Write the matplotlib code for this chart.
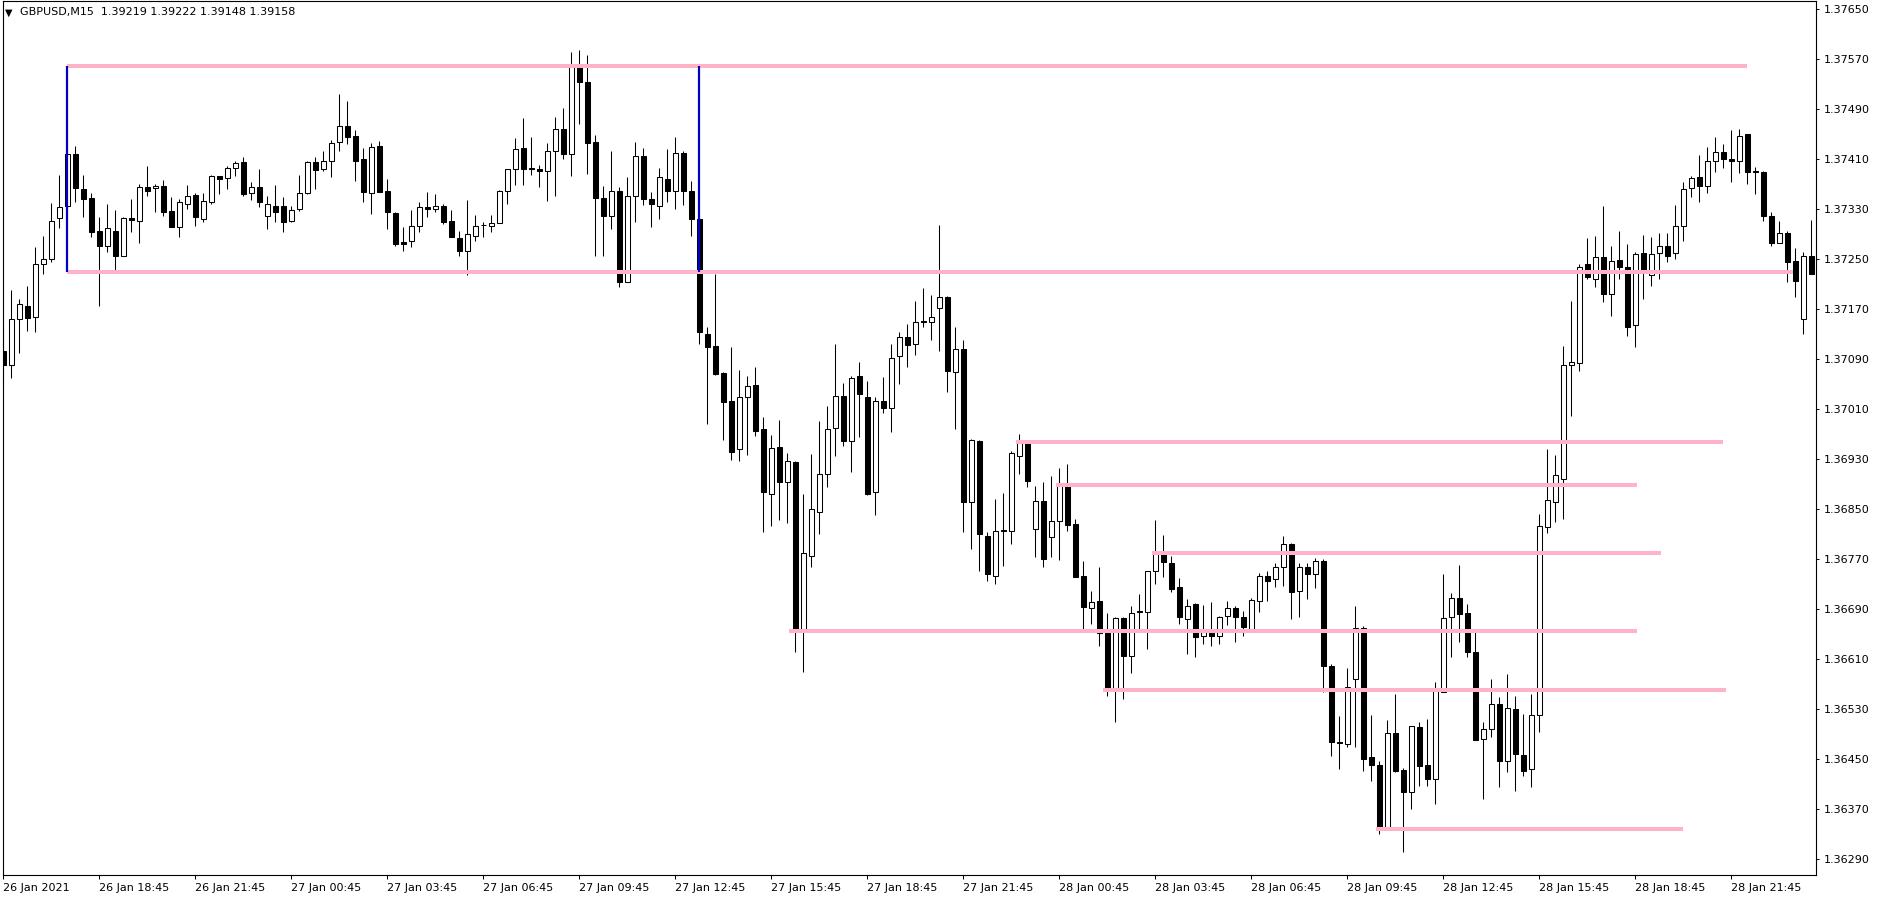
import matplotlib
matplotlib.use("Agg")
import matplotlib.pyplot as plt
import numpy as np

# GBPUSD M15 bars (oldest first)
opens = [
    1.37103, 1.37081, 1.37154, 1.37175, 1.37157, 1.37242, 1.37250, 1.37316, 1.37335, 1.37418,
    1.37362, 1.37348, 1.37295, 1.37272, 1.37296, 1.37255, 1.37316, 1.37312, 1.37365, 1.37364,
    1.37368, 1.37327, 1.37302, 1.37338, 1.37353, 1.37315, 1.37341, 1.37383, 1.37380, 1.37396,
    1.37405, 1.37356, 1.37365, 1.37319, 1.37335, 1.37335, 1.37311, 1.37330, 1.37356, 1.37405,
    1.37394, 1.37408, 1.37437, 1.37463, 1.37447, 1.37410, 1.37356, 1.37431, 1.37359, 1.37324,
    1.37277, 1.37279, 1.37304, 1.37333, 1.37331, 1.37336, 1.37311, 1.37284, 1.37264, 1.37288,
    1.37305, 1.37304, 1.37308, 1.37359, 1.37394, 1.37428, 1.37396, 1.37394, 1.37392, 1.37424,
    1.37458, 1.37418, 1.37557, 1.37533, 1.37437, 1.37348, 1.37320, 1.37359, 1.37214, 1.37352,
    1.37416, 1.37346, 1.37336, 1.37378, 1.37360, 1.37420, 1.37360, 1.37314, 1.37130, 1.37111,
    1.37068, 1.37023, 1.36946, 1.37029, 1.37049, 1.36978, 1.36875, 1.36949, 1.36893, 1.36926,
    1.36658, 1.36776, 1.36846, 1.36906, 1.36980, 1.37031, 1.36960, 1.37064, 1.37029, 1.36877,
    1.37024, 1.37012, 1.37095, 1.37125, 1.37114, 1.37151, 1.37149, 1.37172, 1.37189, 1.37069,
    1.37106, 1.36862, 1.36959, 1.36808, 1.36744, 1.36817, 1.36816, 1.36936, 1.36956, 1.36818,
    1.36863, 1.36805, 1.36831, 1.36889, 1.36826, 1.36743, 1.36692, 1.36703, 1.36652, 1.36564,
    1.36676, 1.36615, 1.36685, 1.36686, 1.36751, 1.36780, 1.36764, 1.36725, 1.36674, 1.36698,
    1.36647, 1.36653, 1.36647, 1.36680, 1.36692, 1.36677, 1.36659, 1.36704, 1.36744, 1.36738,
    1.36757, 1.36794, 1.36719, 1.36757, 1.36746, 1.36768, 1.36600, 1.36477, 1.36474, 1.36578,
    1.36660, 1.36454, 1.36441, 1.36341, 1.36492, 1.36433, 1.36398, 1.36501, 1.36441, 1.36419,
    1.36557, 1.36678, 1.36708, 1.36684, 1.36621, 1.36482, 1.36498, 1.36538, 1.36448, 1.36530,
    1.36457, 1.36435, 1.36521, 1.36822, 1.36862, 1.36898, 1.37081, 1.37084, 1.37242, 1.37218,
    1.37254, 1.37194, 1.37249, 1.37238, 1.37145, 1.37260, 1.37225, 1.37260, 1.37271, 1.37260,
    1.37304, 1.37364, 1.37381, 1.37368, 1.37408, 1.37421, 1.37410, 1.37408, 1.37450, 1.37391,
    1.37389, 1.37320, 1.37276, 1.37292, 1.37247, 1.37154, 1.37256,
]
highs = [
    1.37142, 1.37201, 1.37186, 1.37207, 1.37269, 1.37287, 1.37340, 1.37385, 1.37420, 1.37431,
    1.37385, 1.37356, 1.37317, 1.37339, 1.37329, 1.37317, 1.37347, 1.37371, 1.37399, 1.37370,
    1.37377, 1.37349, 1.37346, 1.37369, 1.37356, 1.37356, 1.37385, 1.37384, 1.37399, 1.37408,
    1.37414, 1.37374, 1.37395, 1.37352, 1.37369, 1.37350, 1.37335, 1.37385, 1.37408, 1.37414,
    1.37424, 1.37441, 1.37515, 1.37503, 1.37457, 1.37428, 1.37436, 1.37439, 1.37379, 1.37326,
    1.37302, 1.37329, 1.37342, 1.37358, 1.37354, 1.37338, 1.37329, 1.37295, 1.37345, 1.37321,
    1.37309, 1.37321, 1.37361, 1.37394, 1.37444, 1.37476, 1.37445, 1.37401, 1.37436, 1.37477,
    1.37492, 1.37582, 1.37585, 1.37577, 1.37449, 1.37367, 1.37423, 1.37366, 1.37382, 1.37438,
    1.37428, 1.37358, 1.37396, 1.37426, 1.37445, 1.37423, 1.37375, 1.37320, 1.37141, 1.37226,
    1.37069, 1.37109, 1.37073, 1.37063, 1.37078, 1.36998, 1.36969, 1.36993, 1.36940, 1.36927,
    1.36875, 1.36939, 1.36991, 1.37015, 1.37114, 1.37052, 1.37063, 1.37086, 1.37056, 1.37029,
    1.37062, 1.37115, 1.37133, 1.37147, 1.37183, 1.37204, 1.37193, 1.37305, 1.37191, 1.37142,
    1.37121, 1.36962, 1.36961, 1.36814, 1.36867, 1.36876, 1.36943, 1.36970, 1.36958, 1.36888,
    1.36893, 1.36904, 1.36916, 1.36922, 1.36835, 1.36767, 1.36720, 1.36758, 1.36684, 1.36677,
    1.36677, 1.36696, 1.36715, 1.36752, 1.36833, 1.36809, 1.36776, 1.36740, 1.36706, 1.36700,
    1.36697, 1.36702, 1.36680, 1.36703, 1.36695, 1.36687, 1.36708, 1.36748, 1.36751, 1.36764,
    1.36807, 1.36796, 1.36764, 1.36764, 1.36772, 1.36770, 1.36602, 1.36520, 1.36596, 1.36695,
    1.36663, 1.36521, 1.36447, 1.36513, 1.36555, 1.36436, 1.36504, 1.36509, 1.36515, 1.36574,
    1.36747, 1.36716, 1.36761, 1.36698, 1.36653, 1.36509, 1.36579, 1.36549, 1.36587, 1.36552,
    1.36523, 1.36554, 1.36843, 1.36947, 1.36937, 1.37112, 1.37183, 1.37243, 1.37284, 1.37288,
    1.37336, 1.37271, 1.37296, 1.37275, 1.37262, 1.37289, 1.37285, 1.37292, 1.37292, 1.37337,
    1.37374, 1.37384, 1.37417, 1.37429, 1.37446, 1.37435, 1.37457, 1.37459, 1.37451, 1.37397,
    1.37391, 1.37325, 1.37311, 1.37295, 1.37268, 1.37261, 1.37313,
]
lows = [
    1.37057, 1.37060, 1.37100, 1.37136, 1.37134, 1.37227, 1.37246, 1.37300, 1.37330, 1.37341,
    1.37318, 1.37286, 1.37176, 1.37261, 1.37233, 1.37255, 1.37293, 1.37276, 1.37352, 1.37325,
    1.37320, 1.37301, 1.37286, 1.37331, 1.37304, 1.37309, 1.37339, 1.37355, 1.37363, 1.37384,
    1.37352, 1.37345, 1.37334, 1.37299, 1.37309, 1.37294, 1.37309, 1.37327, 1.37355, 1.37363,
    1.37392, 1.37382, 1.37423, 1.37435, 1.37376, 1.37341, 1.37323, 1.37357, 1.37299, 1.37272,
    1.37264, 1.37269, 1.37293, 1.37317, 1.37325, 1.37307, 1.37285, 1.37256, 1.37225, 1.37280,
    1.37286, 1.37294, 1.37308, 1.37339, 1.37369, 1.37369, 1.37385, 1.37366, 1.37344, 1.37352,
    1.37411, 1.37384, 1.37467, 1.37386, 1.37256, 1.37256, 1.37299, 1.37206, 1.37214, 1.37309,
    1.37337, 1.37302, 1.37315, 1.37341, 1.37331, 1.37337, 1.37288, 1.37114, 1.36987, 1.37065,
    1.36961, 1.36929, 1.36927, 1.36937, 1.36968, 1.36813, 1.36824, 1.36833, 1.36828, 1.36622,
    1.36590, 1.36757, 1.36810, 1.36886, 1.36936, 1.36952, 1.36909, 1.36965, 1.36873, 1.36841,
    1.37004, 1.36973, 1.37050, 1.37077, 1.37097, 1.37142, 1.37121, 1.37104, 1.37038, 1.36978,
    1.36813, 1.36786, 1.36752, 1.36736, 1.36730, 1.36760, 1.36794, 1.36906, 1.36885, 1.36774,
    1.36757, 1.36773, 1.36769, 1.36816, 1.36741, 1.36659, 1.36667, 1.36632, 1.36552, 1.36509,
    1.36547, 1.36588, 1.36657, 1.36627, 1.36730, 1.36741, 1.36718, 1.36666, 1.36618, 1.36613,
    1.36635, 1.36632, 1.36635, 1.36665, 1.36638, 1.36648, 1.36659, 1.36686, 1.36704, 1.36726,
    1.36728, 1.36675, 1.36678, 1.36706, 1.36724, 1.36557, 1.36456, 1.36435, 1.36469, 1.36469,
    1.36432, 1.36416, 1.36331, 1.36341, 1.36430, 1.36302, 1.36371, 1.36408, 1.36408, 1.36378,
    1.36557, 1.36614, 1.36638, 1.36614, 1.36481, 1.36386, 1.36486, 1.36406, 1.36429, 1.36400,
    1.36424, 1.36406, 1.36493, 1.36812, 1.36830, 1.36835, 1.36999, 1.37071, 1.37218, 1.37206,
    1.37181, 1.37160, 1.37218, 1.37127, 1.37110, 1.37186, 1.37207, 1.37219, 1.37245, 1.37250,
    1.37280, 1.37350, 1.37341, 1.37356, 1.37389, 1.37396, 1.37373, 1.37388, 1.37370, 1.37354,
    1.37312, 1.37271, 1.37276, 1.37213, 1.37189, 1.37130, 1.37226,
]
closes = [
    1.37081, 1.37154, 1.37178, 1.37156, 1.37242, 1.37250, 1.37312, 1.37333, 1.37418, 1.37364,
    1.37346, 1.37293, 1.37272, 1.37300, 1.37255, 1.37316, 1.37313, 1.37365, 1.37360, 1.37368,
    1.37325, 1.37302, 1.37342, 1.37352, 1.37317, 1.37344, 1.37384, 1.37379, 1.37396, 1.37404,
    1.37355, 1.37365, 1.37342, 1.37338, 1.37325, 1.37309, 1.37329, 1.37356, 1.37405, 1.37393,
    1.37408, 1.37436, 1.37464, 1.37446, 1.37408, 1.37357, 1.37430, 1.37358, 1.37325, 1.37275,
    1.37275, 1.37304, 1.37333, 1.37331, 1.37336, 1.37310, 1.37285, 1.37264, 1.37290, 1.37304,
    1.37305, 1.37308, 1.37359, 1.37394, 1.37426, 1.37395, 1.37394, 1.37392, 1.37424, 1.37458,
    1.37418, 1.37557, 1.37533, 1.37436, 1.37348, 1.37320, 1.37359, 1.37214, 1.37352, 1.37416,
    1.37347, 1.37338, 1.37381, 1.37360, 1.37420, 1.37360, 1.37314, 1.37133, 1.37110, 1.37067,
    1.37021, 1.36942, 1.37030, 1.37048, 1.36976, 1.36877, 1.36948, 1.36893, 1.36927, 1.36658,
    1.36780, 1.36850, 1.36906, 1.36978, 1.37032, 1.36960, 1.37060, 1.37034, 1.36875, 1.37024,
    1.37012, 1.37092, 1.37125, 1.37113, 1.37149, 1.37149, 1.37157, 1.37189, 1.37072, 1.37106,
    1.36862, 1.36961, 1.36810, 1.36746, 1.36815, 1.36816, 1.36940, 1.36956, 1.36895, 1.36863,
    1.36771, 1.36832, 1.36889, 1.36825, 1.36741, 1.36693, 1.36702, 1.36652, 1.36564, 1.36676,
    1.36616, 1.36684, 1.36688, 1.36751, 1.36780, 1.36765, 1.36723, 1.36677, 1.36696, 1.36645,
    1.36653, 1.36647, 1.36678, 1.36692, 1.36677, 1.36661, 1.36705, 1.36744, 1.36736, 1.36757,
    1.36794, 1.36717, 1.36757, 1.36746, 1.36768, 1.36600, 1.36477, 1.36476, 1.36566, 1.36660,
    1.36451, 1.36441, 1.36341, 1.36492, 1.36432, 1.36398, 1.36503, 1.36440, 1.36419, 1.36561,
    1.36676, 1.36708, 1.36683, 1.36621, 1.36481, 1.36498, 1.36538, 1.36448, 1.36532, 1.36458,
    1.36432, 1.36521, 1.36823, 1.36865, 1.36905, 1.37081, 1.37086, 1.37238, 1.37221, 1.37254,
    1.37194, 1.37247, 1.37238, 1.37142, 1.37259, 1.37233, 1.37258, 1.37272, 1.37256, 1.37303,
    1.37362, 1.37380, 1.37368, 1.37408, 1.37421, 1.37410, 1.37408, 1.37447, 1.37389, 1.37389,
    1.37320, 1.37276, 1.37292, 1.37245, 1.37215, 1.37256, 1.37226,
]

# horizontal levels drawn on the chart (price, first bar, last bar)
level_prices = [1.37559, 1.37230, 1.36958, 1.36889, 1.36780, 1.36655, 1.36561, 1.36338]
level_start = [7.9, 7.9, 126.6, 131.6, 143.55, 98.25, 137.5, 171.55]
level_end = [218.0, 223.7, 214.9, 204.2, 207.2, 204.2, 215.3, 209.9]

# vertical range markers
marker_bars = [8, 87]
marker_top = 1.37559
marker_bottom = 1.37230

price_ticks = [1.37650, 1.37570, 1.37490, 1.37410, 1.37330, 1.37250, 1.37170, 1.37090, 1.37010,
               1.36930, 1.36850, 1.36770, 1.36690, 1.36610, 1.36530, 1.36450, 1.36370, 1.36290]
time_labels = ["26 Jan 2021", "26 Jan 18:45", "26 Jan 21:45", "27 Jan 00:45", "27 Jan 03:45",
               "27 Jan 06:45", "27 Jan 09:45", "27 Jan 12:45", "27 Jan 15:45", "27 Jan 18:45",
               "27 Jan 21:45", "28 Jan 00:45", "28 Jan 03:45", "28 Jan 06:45", "28 Jan 09:45",
               "28 Jan 12:45", "28 Jan 15:45", "28 Jan 18:45", "28 Jan 21:45"]
header = "GBPUSD,M15  1.39219 1.39222 1.39148 1.39158"

W, H = 1879, 900
fig = plt.figure(figsize=(W / 100, H / 100), dpi=100)
fig.patch.set_facecolor("white")
ax_l, ax_r, ax_t, ax_b = 2.5, 1815.7, 0.5, 875.0
ax = fig.add_axes([ax_l / W, 1 - ax_b / H, (ax_r - ax_l) / W, (ax_b - ax_t) / H])

o = np.array(opens)
h = np.array(highs)
l = np.array(lows)
c = np.array(closes)
x = np.arange(len(o))
up = c >= o

ax.vlines(x, l, h, color="black", lw=0.75, zorder=2)
ax.bar(x[up], (c - o)[up], bottom=o[up], width=0.6, color="white",
       edgecolor="black", lw=0.75, zorder=3)
ax.bar(x[~up], (o - c)[~up], bottom=c[~up], width=0.6, color="black",
       edgecolor="black", lw=0.75, zorder=3)

# levels and markers
for p, s, e in zip(level_prices, level_start, level_end):
    ax.plot([s, e], [p, p], color="#ffb3c8", lw=2.9, solid_capstyle="butt", zorder=4)
ax.vlines(marker_bars, marker_bottom, marker_top, color="#0000cd", lw=1.6, zorder=5)

ax.set_xlim((ax_l - 3.3) / 8, (ax_r - 3.3) / 8)
ax.set_ylim(1.37410 - (ax_b - 159.3) * 1.6e-5, 1.37410 + (159.3 - ax_t) * 1.6e-5)

ax.yaxis.tick_right()
ax.set_yticks(price_ticks)
ax.set_yticklabels(["%.5f" % p for p in price_ticks])
ax.set_xticks(list(range(0, 12 * len(time_labels), 12)))
ax.set_xticklabels(time_labels)
for t in ax.get_xticklabels():
    t.set_ha("left")
ax.tick_params(axis="y", direction="out", length=2.5, width=0.75, pad=3, labelsize=8)
ax.tick_params(axis="x", direction="out", length=3, width=0.75, pad=3, labelsize=8)
for sp in ax.spines.values():
    sp.set_color("black")
    sp.set_linewidth(0.8)

fig.text(5 / W, 1 - 12.5 / H, "\u25bc", fontsize=7, va="center", ha="left")
fig.text(20 / W, 1 - 12 / H, header, fontsize=8, va="center", ha="left")

fig.savefig("out.png", dpi=100)
